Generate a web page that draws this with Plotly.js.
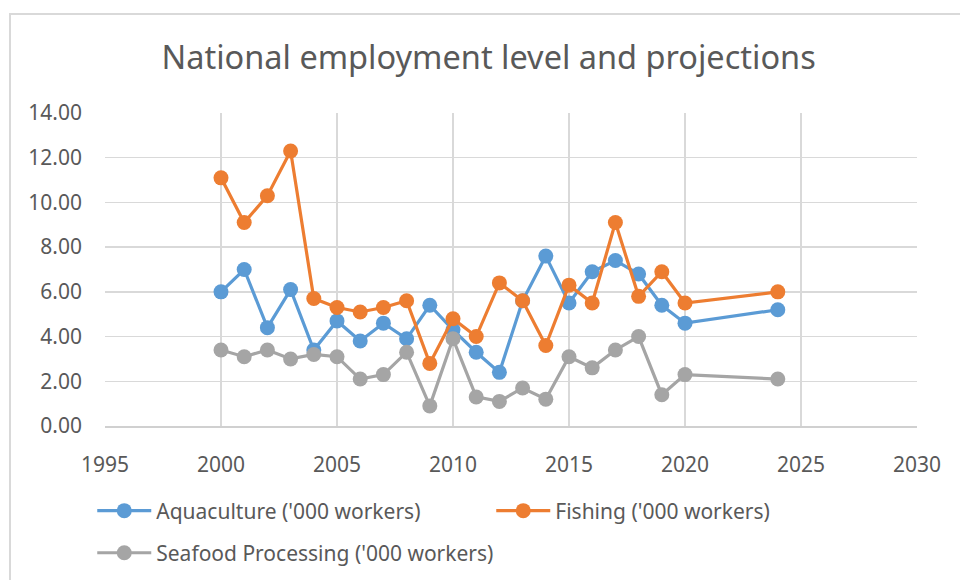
<!DOCTYPE html>
<html>
<head>
<meta charset="utf-8">
<script src="https://cdn.plot.ly/plotly-3.0.1.min.js"></script>
<style>
html,body{margin:0;padding:0;background:#fff;overflow:hidden;}
#wrap{position:relative;width:960px;height:580px;}
#chart{width:960px;height:580px;}
#frame{position:absolute;left:9px;top:13px;width:980px;height:600px;border:2px solid #d9d9d9;pointer-events:none;}
</style>
</head>
<body>
<div id="wrap"><div id="chart"></div><div id="frame"></div></div>
<script>
const years = [2000,2001,2002,2003,2004,2005,2006,2007,2008,2009,2010,2011,2012,2013,2014,2015,2016,2017,2018,2019,2020,2024];
const aquaculture = [6.0,7.0,4.4,6.1,3.4,4.7,3.8,4.6,3.9,5.4,4.3,3.3,2.4,5.6,7.6,5.5,6.9,7.4,6.8,5.4,4.6,5.2];
const fishing = [11.1,9.1,10.3,12.3,5.7,5.3,5.1,5.3,5.6,2.8,4.8,4.0,6.4,5.6,3.6,6.3,5.5,9.1,5.8,6.9,5.5,6.0];
const seafood = [3.4,3.1,3.4,3.0,3.2,3.1,2.1,2.3,3.3,0.9,3.9,1.3,1.1,1.7,1.2,3.1,2.6,3.4,4.0,1.4,2.3,2.1];
const seriesNames = ["Aquaculture ('000 workers)","Fishing ('000 workers)","Seafood Processing ('000 workers)"];
const colors = ["#5B9BD5","#ED7D31","#A5A5A5"];
const titleText = "National employment level and projections";

const series = [aquaculture, fishing, seafood];
const legendIds = ['legend','legend','legend2'];
const traces = series.map((s,i)=>({
  x: years, y: s, name: seriesNames[i], type:'scatter', mode:'lines+markers',
  legend: legendIds[i],
  line:{color:colors[i], width:3.2},
  marker:{color:colors[i], size:15}
}));
const legendCommon = {orientation:'h', xanchor:'left', yanchor:'middle', x:-0.0157,
  entrywidth:330, entrywidthmode:'pixels', itemwidth:54, font:{size:21, color:'#595959'},
  bgcolor:'rgba(0,0,0,0)', traceorder:'normal'};
const layout = {
  width:960, height:580,
  margin:{l:105, r:43, t:113, b:154, autoexpand:false},
  paper_bgcolor:'#fff', plot_bgcolor:'#fff',
  font:{family:'Noto Sans, sans-serif', color:'#595959', size:21},
  title:{text:titleText, x:0.509, xanchor:'center', y:0.9, yanchor:'middle', font:{size:32.5, color:'#595959', family:'Noto Sans, sans-serif'}},
  xaxis:{range:[1995,2030], dtick:5, tick0:1995, showgrid:true, gridcolor:'#d9d9d9', gridwidth:1.5, automargin:false,
    showline:true, linecolor:'#d0d0d0', linewidth:1.5, zeroline:false, ticks:'', ticklabelstandoff:19,
    tickfont:{size:21, color:'#595959'}},
  yaxis:{range:[0,14], dtick:2, tick0:0, tickformat:'.2f', showgrid:true, gridcolor:'#d9d9d9', gridwidth:1.5, automargin:false,
    showline:false, zeroline:false, ticks:'', ticklabelstandoff:22, tickfont:{size:21, color:'#595959'}},
  showlegend:true,
  legend:Object.assign({}, legendCommon, {y:-0.2716}),
  legend2:Object.assign({}, legendCommon, {y:-0.406, entrywidth:420})
};
Plotly.newPlot('chart', traces, layout, {displayModeBar:false, staticPlot:true});
</script>
</body>
</html>
